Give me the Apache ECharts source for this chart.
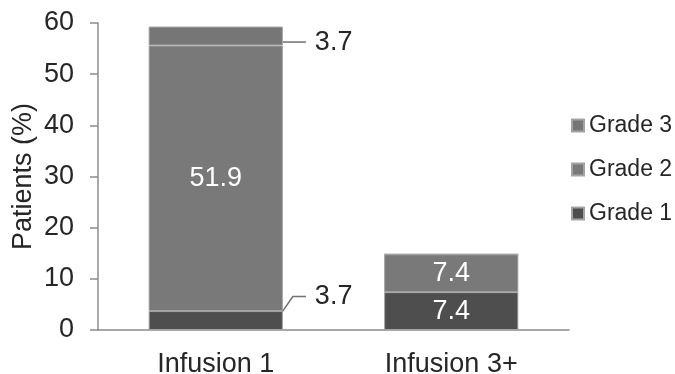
<!DOCTYPE html>
<html>
<head>
<meta charset="utf-8">
<script src="https://cdn.jsdelivr.net/npm/echarts@6/dist/echarts.min.js"></script>
<style>
  html, body { margin: 0; padding: 0; background: #fff; }
  #chart { width: 675px; height: 374px; }
</style>
</head>
<body>
<div id="chart"></div>
<script>
// Infusion-reaction grades by infusion number (% of patients)
const categories = ['Infusion 1', 'Infusion 3+'];
const grade1 = [3.7, 7.4];
const grade2 = [51.9, 7.4];
const grade3 = [3.7, 0];
const yTicks = [0, 10, 20, 30, 40, 50, 60];

const FONT = '"Liberation Sans", Arial, sans-serif';
const TEXT = '#262626';
const AXIS = '#8c8c8c';

// Small first-infusion values get their labels outside the bar, joined by a leader line.
// The transparent background makes the left padding part of the label box, so the
// leader stops a few pixels short of the text.
function outsideItem(v, dy) {
  return {
    value: v,
    label: {
      show: true, position: 'right', distance: 23, color: TEXT, fontSize: 27,
      padding: [0, 0, 0, 9], backgroundColor: 'rgba(255,255,255,0)'
    },
    labelLine: { show: true, length2: 13, minTurnAngle: 0, lineStyle: { color: '#707070', width: 1.5 } },
    __dy: dy
  };
}
function insideItem(v) {
  return v > 0
    ? { value: v, label: { show: true, position: 'inside', color: '#ffffff', fontSize: 27 } }
    : { value: v, label: { show: false } };
}

const g1Data = grade1.map((v, i) => i === 0 ? outsideItem(v, -24) : insideItem(v));
const g2Data = grade2.map(v => insideItem(v));
const g3Data = grade3.map((v, i) => i === 0 ? outsideItem(v, 6) : insideItem(v));

const barBorder = { borderColor: '#a3a3a3', borderWidth: 1 };

function layoutFor(data) {
  return function (p) {
    const d = data[p.dataIndex];
    return d && d.__dy !== undefined ? { dy: d.__dy } : {};
  };
}

const chart = echarts.init(document.getElementById('chart'), null, { renderer: 'canvas' });
chart.setOption({
  animation: false,
  backgroundColor: '#ffffff',
  textStyle: { fontFamily: FONT, color: TEXT },
  grid: { left: 98, right: 106, top: 23, bottom: 44, containLabel: false, outerBoundsMode: 'none' },
  legend: {
    orient: 'vertical',
    left: 571,
    top: 114,
    padding: 0,
    itemGap: 21,
    itemWidth: 12,
    itemHeight: 12,
    icon: 'rect',
    data: ['Grade 3', 'Grade 2', 'Grade 1'],
    textStyle: { fontFamily: FONT, fontSize: 23, color: TEXT },
    selectedMode: false
  },
  xAxis: {
    type: 'category',
    data: categories,
    axisLine: { lineStyle: { color: AXIS, width: 1.5 } },
    axisTick: { show: false },
    axisLabel: { fontFamily: FONT, fontSize: 27, color: TEXT, margin: 21 }
  },
  yAxis: {
    type: 'value',
    min: yTicks[0],
    max: yTicks[yTicks.length - 1],
    interval: 10,
    name: 'Patients (%)',
    nameLocation: 'middle',
    nameGap: 61,
    nameMoveOverlap: false,
    nameTextStyle: { fontFamily: FONT, fontSize: 27, color: TEXT },
    axisLine: { show: true, lineStyle: { color: AXIS, width: 1.5 } },
    axisTick: { show: true, inside: false, length: 8, lineStyle: { color: AXIS, width: 1.5 } },
    axisLabel: { fontFamily: FONT, fontSize: 27, color: TEXT, margin: 24 },
    splitLine: { show: false }
  },
  series: [
    {
      name: 'Grade 1', type: 'bar', stack: 'g', barWidth: '57%',
      data: g1Data,
      itemStyle: Object.assign({ color: '#4e4e4e' }, barBorder),
      labelLayout: layoutFor(g1Data)
    },
    {
      name: 'Grade 2', type: 'bar', stack: 'g', barWidth: '57%',
      data: g2Data,
      itemStyle: Object.assign({ color: '#797979' }, barBorder)
    },
    {
      name: 'Grade 3', type: 'bar', stack: 'g', barWidth: '57%',
      data: g3Data,
      itemStyle: Object.assign({ color: '#767676' }, barBorder),
      labelLayout: layoutFor(g3Data)
    }
  ]
});
</script>
</body>
</html>
